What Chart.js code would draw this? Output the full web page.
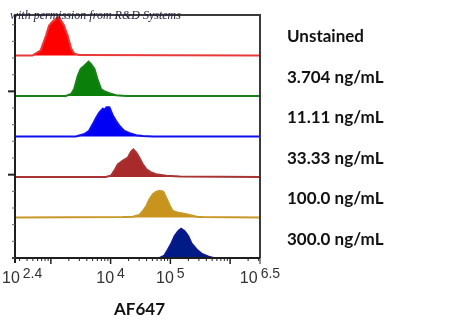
<!DOCTYPE html>
<html>
<head>
<meta charset="utf-8">
<script src="https://cdn.jsdelivr.net/npm/chart.js@4/dist/chart.umd.min.js"></script>
<style>
  html, body { margin: 0; padding: 0; background: #fff; }
  #wrap { width: 450px; height: 331px; }
</style>
</head>
<body>
<div id="wrap"><canvas id="histChart" width="450" height="331"></canvas></div>
<script>
// row labels, top to bottom
const rowLabels = ['Unstained', '3.704 ng/mL', '11.11 ng/mL', '33.33 ng/mL', '100.0 ng/mL', '300.0 ng/mL'];

// x values are log10(AF647 intensity); y values are relative counts (0-100 per row)
const unstainedX = [2.4, 2.69, 2.83, 2.92, 2.97, 3.03, 3.13, 3.22, 3.28, 3.34, 3.39, 3.48, 6.5];
const unstainedY = [0, 0, 13, 50, 74, 84, 96, 74, 50, 17, 5, 1, 0];

const conc3X = [2.4, 3.25, 3.34, 3.39, 3.45, 3.50, 3.56, 3.63, 3.67, 3.73, 3.78, 3.84, 3.90, 3.98, 4.09, 4.26, 6.5];
const conc3Y = [0, 0, 5, 17, 50, 67, 75, 85, 79, 67, 42, 17, 11, 7, 2, 0, 0];

const conc11X = [2.4, 3.42, 3.56, 3.64, 3.70, 3.76, 3.81, 3.87, 3.91, 3.93, 3.98, 4.04, 4.09, 4.15, 4.23, 4.32, 4.43, 4.54, 4.71, 6.5];
const conc11Y = [0, 0, 6, 14, 30, 47, 59, 69, 67, 72, 72, 51, 39, 26, 14, 8, 3, 1, 0, 0];

const conc33X = [2.4, 3.92, 4.01, 4.06, 4.12, 4.20, 4.29, 4.34, 4.38, 4.43, 4.48, 4.54, 4.60, 4.68, 4.76, 4.93, 5.16, 6.5];
const conc33Y = [0, 0, 4, 15, 31, 40, 48, 62, 68, 60, 48, 31, 19, 11, 7, 3, 1, 0];

const conc100X = [2.4, 4.20, 4.37, 4.48, 4.54, 4.60, 4.65, 4.71, 4.76, 4.82, 4.88, 4.90, 4.93, 4.99, 5.04, 5.13, 5.21, 5.32, 5.44, 5.55, 6.5];
const conc100Y = [0, 1, 2, 6, 16, 29, 45, 58, 63, 66, 64, 58, 49, 29, 16, 12, 10, 6, 2, 1, 0];

const conc300X = [2.4, 4.82, 4.90, 4.96, 5.02, 5.07, 5.13, 5.18, 5.24, 5.30, 5.35, 5.44, 5.52, 5.63, 5.72, 6.5];
const conc300Y = [0, 0, 6, 21, 37, 54, 66, 72, 66, 54, 37, 21, 11, 4, 0, 0];

const seriesX = [unstainedX, conc3X, conc11X, conc33X, conc100X, conc300X];
const seriesY = [unstainedY, conc3Y, conc11Y, conc33Y, conc100Y, conc300Y];
const fillColors = ['#ff0000', '#0a800a', '#0000f5', '#a82a2a', '#c8941e', '#001a86'];
const lineColors = ['#e83a3a', '#1a801a', '#1010f0', '#a83434', '#c89828', '#101a90'];

// x axis labels: 10^exp
const xTickValues = [2.4, 4, 5, 6.5];
const xTickExponents = ['2.4', '4', '5', '6.5'];
const xTitle = 'AF647';

const rowHeight = 100;
const nRows = rowLabels.length;

const datasets = rowLabels.map((label, i) => {
    const offset = (nRows - 1 - i) * rowHeight;
    return {
        label: label,
        data: seriesX[i].map((x, j) => ({ x: x, y: offset + seriesY[i][j] })),
        borderColor: lineColors[i],
        backgroundColor: fillColors[i],
        borderWidth: 2,
        pointRadius: 0,
        tension: 0,
        fill: { value: offset }
    };
});

const decorPlugin = {
    id: 'decor',
    afterDraw(chart) {
        const { ctx, chartArea: a, scales: { x, y } } = chart;
        ctx.save();

        // frame top / right
        ctx.strokeStyle = '#3a3a3a';
        ctx.lineWidth = 2;
        ctx.beginPath();
        ctx.moveTo(a.left, a.top);
        ctx.lineTo(a.right, a.top);
        ctx.lineTo(a.right, a.bottom);
        ctx.stroke();

        // left and bottom axis lines
        ctx.strokeStyle = '#1e1e1e';
        ctx.beginPath();
        ctx.moveTo(a.left, a.top);
        ctx.lineTo(a.left, a.bottom + 5);
        ctx.moveTo(a.left - 3, a.bottom);
        ctx.lineTo(a.right, a.bottom);
        ctx.stroke();

        // x tick marks, decades and minor
        for (let d = 2; d <= 6; d++) {
            for (let k = 1; k <= 9; k++) {
                const v = d + Math.log10(k);
                if (v < x.min || v > x.max + 1e-6) continue;
                const px = x.getPixelForValue(v);
                ctx.lineWidth = k === 1 ? 1.5 : 1;
                ctx.strokeStyle = '#222';
                ctx.beginPath();
                ctx.moveTo(px, a.bottom);
                ctx.lineTo(px, a.bottom + (k === 1 ? 6 : 3));
                ctx.stroke();
            }
        }
        const pxEnd = x.getPixelForValue(x.max);
        ctx.beginPath();
        ctx.moveTo(pxEnd, a.bottom);
        ctx.lineTo(pxEnd, a.bottom + 6);
        ctx.stroke();

        // y tick marks
        const yStep = 41.15;
        for (let k = 0; k * yStep <= y.max; k++) {
            const py = y.getPixelForValue(k * yStep);
            const major = k === 5 || k === 10;
            ctx.strokeStyle = major ? '#222' : '#666';
            ctx.lineWidth = major ? 2 : 1;
            ctx.beginPath();
            ctx.moveTo(a.left - (major ? 7 : 3), py);
            ctx.lineTo(a.left, py);
            ctx.stroke();
        }

        // x tick labels with superscript exponents
        ctx.fillStyle = '#333';
        ctx.textBaseline = 'alphabetic';
        xTickValues.forEach((v, i) => {
            const px = x.getPixelForValue(v);
            ctx.font = '16px "Liberation Sans", Arial, sans-serif';
            const wBase = ctx.measureText('10').width;
            ctx.font = '14px "Liberation Sans", Arial, sans-serif';
            const wExp = ctx.measureText(xTickExponents[i]).width;
            const gap = 3;
            let left = px - (wBase + gap + wExp) / 2;
            if (left < 2) left = 2;
            ctx.textAlign = 'left';
            ctx.font = '16px "Liberation Sans", Arial, sans-serif';
            ctx.fillText('10', left, a.bottom + 25);
            ctx.font = '14px "Liberation Sans", Arial, sans-serif';
            ctx.fillText(xTickExponents[i], left + wBase + gap, a.bottom + 20);
        });

        // x title
        ctx.fillStyle = '#111';
        ctx.font = 'bold 17px Lato, "Open Sans", sans-serif';
        ctx.textAlign = 'center';
        ctx.textBaseline = 'middle';
        ctx.fillText(xTitle, (a.left + a.right) / 2 + 2, a.bottom + 52);

        // row labels on the right
        ctx.textAlign = 'left';
        rowLabels.forEach((label, i) => {
            const offset = (nRows - 1 - i) * rowHeight;
            const py = y.getPixelForValue(offset + 46);
            ctx.fillText(label, a.right + 27, py);
        });

        // watermark
        ctx.fillStyle = '#1c1c3c';
        ctx.font = 'italic 12px "Liberation Serif", "DejaVu Serif", serif';
        ctx.textAlign = 'left';
        ctx.fillText('with permission from R&D Systems', 10, 16);

        ctx.restore();
    }
};

const chart = new Chart(document.getElementById('histChart').getContext('2d'), {
    type: 'line',
    data: { datasets: datasets },
    options: {
        responsive: false,
        animation: false,
        layout: { padding: { left: 15, top: 15, right: 190, bottom: 73 } },
        plugins: {
            legend: { display: false },
            tooltip: { enabled: false }
        },
        scales: {
            x: { type: 'linear', min: 2.4, max: 6.5, display: false },
            y: { min: 0, max: nRows * rowHeight, display: false }
        }
    },
    plugins: [decorPlugin]
});
</script>
</body>
</html>
